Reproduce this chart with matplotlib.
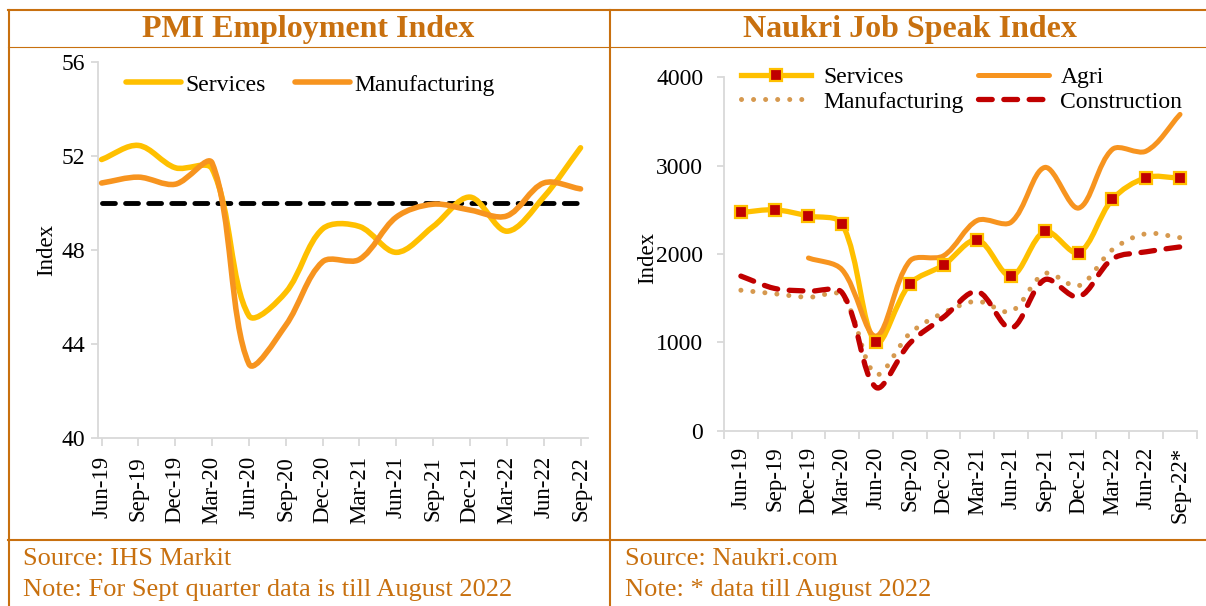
import numpy as np
import matplotlib
matplotlib.use('Agg')
import matplotlib.pyplot as plt
from matplotlib.path import Path
from matplotlib.patches import PathPatch
from matplotlib.lines import Line2D

# ---- data ----
quarters = ['Jun-19', 'Sep-19', 'Dec-19', 'Mar-20', 'Jun-20', 'Sep-20', 'Dec-20',
            'Mar-21', 'Jun-21', 'Sep-21', 'Dec-21', 'Mar-22', 'Jun-22', 'Sep-22']
quarters_naukri = quarters[:-1] + ['Sep-22*']

pmi_services = [51.85, 52.45, 51.5, 51.45, 45.2, 46.2, 48.9, 49.0, 47.9, 49.0, 50.25, 48.8, 50.25, 52.35]
pmi_manufacturing = [50.85, 51.1, 50.8, 51.7, 43.15, 44.8, 47.5, 47.6, 49.4, 49.95, 49.7, 49.45, 50.85, 50.6]
pmi_threshold = 50

naukri_services = [2470, 2500, 2430, 2340, 1000, 1660, 1875, 2160, 1750, 2255, 2015, 2620, 2865, 2860]
naukri_agri = [np.nan, np.nan, 1955, 1820, 1070, 1920, 1980, 2380, 2360, 2980, 2520, 3185, 3165, 3580]
naukri_manufacturing = [1590, 1550, 1510, 1530, 640, 1100, 1335, 1465, 1350, 1780, 1640, 2050, 2230, 2185]
naukri_construction = [1750, 1610, 1580, 1560, 490, 990, 1285, 1575, 1160, 1710, 1515, 1945, 2025, 2080]

# ---- styles ----
BORDER = '#C8700F'
YELLOW = '#FFC000'
ORANGE = '#F7941F'
RED = '#C00000'
TAN = '#D6994F'
GREY = '#D9D9D9'

plt.rcParams['font.family'] = ['Liberation Serif', 'DejaVu Serif']

W, H = 1206, 606
fig = plt.figure(figsize=(W / 100, H / 100), dpi=100)


def fx(px):
    return px / W


def fy(py):
    return 1 - py / H


def excel_smooth(ax, x, y, **kw):
    # bezier through the points, tangents scaled by neighbouring segment lengths
    x = np.asarray(x, float)
    y = np.asarray(y, float)
    ok = ~np.isnan(y)
    pts = np.column_stack([x[ok], y[ok]])
    disp = ax.transData.transform(pts)
    seg = np.hypot(*np.diff(disp, axis=0).T)
    n = len(pts)
    verts = [pts[0]]
    codes = [Path.MOVETO]
    for i in range(n - 1):
        p0 = pts[i - 1] if i > 0 else pts[i]
        p3 = pts[i + 2] if i < n - 2 else pts[i + 1]
        d01 = seg[i - 1] if i > 0 else 0.0
        d23 = seg[i + 1] if i < n - 2 else 0.0
        d12 = seg[i]
        c1 = pts[i] + (pts[i + 1] - p0) * d12 / (d01 + d12) / 3
        c2 = pts[i + 1] - (p3 - pts[i]) * d12 / (d12 + d23) / 3
        verts += [c1, c2, pts[i + 1]]
        codes += [Path.CURVE4] * 3
    patch = PathPatch(Path(verts, codes), fill=False, capstyle='round',
                      joinstyle='round', **kw)
    ax.add_patch(patch)
    return patch


def style_axes(ax):
    for s in ['top', 'right']:
        ax.spines[s].set_visible(False)
    for s in ['left', 'bottom']:
        ax.spines[s].set_color(GREY)
        ax.spines[s].set_linewidth(1.3)


# ---------------- left: PMI ----------------
ax1 = fig.add_axes([fx(97.9), fy(438), fx(587.9) - fx(97.9), fy(62) - fy(438)])
xi = np.arange(len(quarters))
ax1.set_xlim(-0.1, 13.2)
ax1.set_ylim(40, 56)
ax1.set_yticks([40, 44, 48, 52, 56])
ax1.set_xticks(xi)
ax1.set_xticklabels(quarters, rotation=90)
style_axes(ax1)
ax1.tick_params(axis='y', length=5, width=1.3, color=GREY, pad=4, labelsize=17)
ax1.tick_params(axis='x', length=6, width=1.3, color=GREY, pad=7, labelsize=16.5)
ax1.set_ylabel('Index', fontsize=16.5)
ax1.yaxis.set_label_coords(-0.083, 0.5)

ax1.plot(xi, [pmi_threshold] * len(xi), color='black', lw=3.5,
         ls=(0, (2.65, 2.1)), dash_capstyle='round', zorder=2)
excel_smooth(ax1, xi, pmi_services, edgecolor=YELLOW, lw=4, zorder=3)
excel_smooth(ax1, xi, pmi_manufacturing, edgecolor=ORANGE, lw=4, zorder=4)

h1 = [Line2D([], [], color=YELLOW, lw=4, solid_capstyle='round'),
      Line2D([], [], color=ORANGE, lw=4, solid_capstyle='round')]
ax1.legend(h1, ['Services', 'Manufacturing'], ncol=2, frameon=False, fontsize=17,
           loc='center left', bbox_to_anchor=(0.058, 0.939), borderaxespad=0,
           borderpad=0, handlelength=2.3, handletextpad=0.2, columnspacing=1.25)

# ---------------- right: Naukri ----------------
ax2 = fig.add_axes([fx(724), fy(430.7), fx(1196.9) - fx(724), fy(77.3) - fy(430.7)])
xn = np.arange(len(quarters_naukri))
ax2.set_xlim(-0.5, len(xn) - 0.5)
ax2.set_ylim(0, 4000)
ax2.set_yticks([0, 1000, 2000, 3000, 4000])
ax2.set_xticks(xn)
ax2.set_xticklabels(quarters_naukri, rotation=90)
ax2.set_xticks(np.arange(len(xn) + 1) - 0.5, minor=True)
style_axes(ax2)
ax2.tick_params(axis='y', length=5, width=1.3, color=GREY, pad=10, labelsize=17)
ax2.tick_params(axis='x', which='major', length=0, pad=11.5, labelsize=16.5)
ax2.tick_params(axis='x', which='minor', length=6, width=1.3, color=GREY)
ax2.set_ylabel('Index', fontsize=16.5)
ax2.yaxis.set_label_coords(-0.14, 0.49)

excel_smooth(ax2, xn, naukri_services, edgecolor=YELLOW, lw=3.8, zorder=2)
excel_smooth(ax2, xn, naukri_agri, edgecolor=ORANGE, lw=3.6, zorder=3)
excel_smooth(ax2, xn, naukri_manufacturing, edgecolor=TAN, lw=3.6,
             linestyle=(0, (0.01, 2.4)), zorder=4)
excel_smooth(ax2, xn, naukri_construction, edgecolor=RED, lw=3.8,
             linestyle=(0, (2.6, 2.2)), zorder=5)
ax2.plot(xn, naukri_services, ls='none', marker='s', ms=8.3, mfc=RED, mec=YELLOW,
         mew=1.6, zorder=6)

h_serv = Line2D([], [], color=YELLOW, lw=3.8, marker='s', ms=8.3, mfc=RED, mec=YELLOW, mew=1.6)
h_agri = Line2D([], [], color=ORANGE, lw=3.6, solid_capstyle='round')
h_manu = Line2D([], [], color=TAN, lw=3.6, ls=(0, (0.01, 2.4)), dash_capstyle='round')
h_cons = Line2D([], [], color=RED, lw=3.8, ls=(0, (2.6, 2.2)), dash_capstyle='round')
ax2.legend([h_serv, h_manu, h_agri, h_cons],
           ['Services', 'Manufacturing', 'Agri', 'Construction'],
           ncol=2, frameon=False, fontsize=17, loc='center left',
           bbox_to_anchor=(0.035, 0.965), borderaxespad=0, borderpad=0,
           handlelength=3.0, handletextpad=0.5, columnspacing=0.6, labelspacing=0.12,
           numpoints=1)

# ---------------- table frame, titles, notes ----------------
frame = [((8, 1206), (10, 10), 1.5), ((8, 1206), (47, 47), 0.8), ((8, 1206), (540, 540), 1.5),
         ((9, 9), (10, 606), 1.5), ((610, 610), (10, 606), 1.5)]
for xs, ys, lw in frame:
    fig.add_artist(Line2D([fx(xs[0]), fx(xs[1])], [fy(ys[0]), fy(ys[1])],
                          color=BORDER, lw=lw, transform=fig.transFigure))

fig.text(fx(308), fy(37), 'PMI Employment Index', ha='center', va='baseline',
         fontsize=23, fontweight='bold', color=BORDER)
fig.text(fx(910), fy(37), 'Naukri Job Speak Index', ha='center', va='baseline',
         fontsize=23, fontweight='bold', color=BORDER)

fig.text(fx(23), fy(565), 'Source: IHS Markit', ha='left', va='baseline', fontsize=19, color=BORDER)
fig.text(fx(23), fy(596), 'Note: For Sept quarter data is till August 2022', ha='left',
         va='baseline', fontsize=19, color=BORDER)
fig.text(fx(625), fy(565), 'Source: Naukri.com', ha='left', va='baseline', fontsize=19, color=BORDER)
fig.text(fx(625), fy(596), 'Note: * data till August 2022', ha='left', va='baseline',
         fontsize=19, color=BORDER)

fig.savefig('out.png', dpi=100)
